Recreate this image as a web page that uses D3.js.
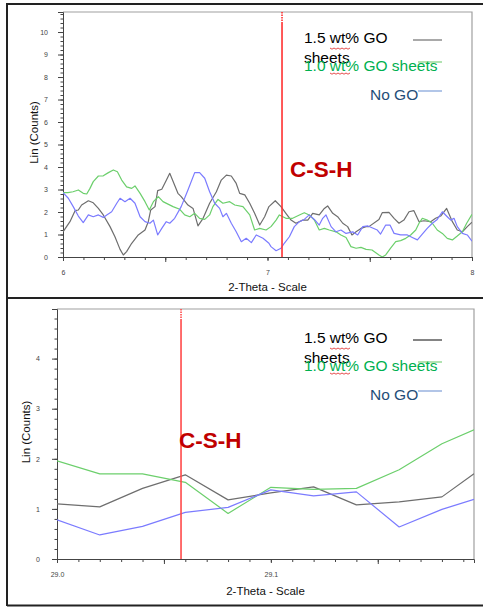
<!DOCTYPE html>
<html>
<head>
<meta charset="utf-8">
<script src="https://cdn.jsdelivr.net/npm/d3@7"></script>
<style>
  body { margin: 0; background: #fff; }
  svg { display: block; font-family: "Liberation Sans", Arial, sans-serif; }
  .tick text { font-size: 7px; fill: #444; }
  .tick line { stroke: #444; }
</style>
</head>
<body>
<svg id="chart" width="483" height="608"></svg>
<script>

/* --- data : upper scan (2-theta 6..8) --- */
var top15wt = [[6.000,1.12],[6.034,1.57],[6.059,2.06],[6.075,2.09],[6.091,2.31],[6.124,2.50],[6.148,2.41],[6.173,2.16],[6.197,1.87],[6.230,1.35],[6.254,0.90],[6.279,0.34],[6.295,0.09],[6.311,0.24],[6.336,0.61],[6.368,0.98],[6.401,1.20],[6.417,1.57],[6.429,2.09],[6.450,2.24],[6.463,2.95],[6.483,3.01],[6.504,3.39],[6.522,3.72],[6.562,2.83],[6.578,2.68],[6.611,2.31],[6.636,2.16],[6.660,1.38],[6.685,1.72],[6.717,2.39],[6.750,2.90],[6.774,3.42],[6.799,3.64],[6.823,3.60],[6.847,3.27],[6.864,2.83],[6.889,2.76],[6.913,2.39],[6.937,1.94],[6.962,1.42],[6.986,1.79],[7.007,2.24],[7.038,2.50],[7.066,2.24],[7.090,1.94],[7.115,1.64],[7.139,1.50],[7.172,1.64],[7.197,1.64],[7.221,1.94],[7.253,1.87],[7.278,2.16],[7.294,2.27],[7.319,1.94],[7.343,1.79],[7.368,1.50],[7.392,1.35],[7.413,0.98],[7.433,1.12],[7.457,1.27],[7.482,1.35],[7.496,1.35],[7.545,1.67],[7.561,1.97],[7.594,1.98],[7.619,1.72],[7.643,1.50],[7.667,1.64],[7.692,2.01],[7.716,2.06],[7.741,1.57],[7.765,1.61],[7.798,1.57],[7.822,1.72],[7.847,1.82],[7.876,2.16],[7.904,1.57],[7.928,1.20],[7.953,1.12],[7.977,1.35],[8.000,1.55]]

var top10wt = [[6.000,2.86],[6.024,2.86],[6.049,2.90],[6.075,2.98],[6.099,2.83],[6.116,2.80],[6.132,3.05],[6.148,3.35],[6.173,3.60],[6.197,3.61],[6.222,3.75],[6.246,3.87],[6.266,3.79],[6.287,3.42],[6.311,3.12],[6.336,3.05],[6.352,3.16],[6.377,2.83],[6.401,2.46],[6.422,2.09],[6.442,2.46],[6.466,2.68],[6.489,2.46],[6.538,2.24],[6.571,2.12],[6.595,1.87],[6.620,1.79],[6.644,1.94],[6.668,1.72],[6.693,1.67],[6.717,1.87],[6.733,2.24],[6.758,2.56],[6.782,2.39],[6.815,2.46],[6.840,2.31],[6.880,2.24],[6.913,1.87],[6.937,1.20],[6.962,1.27],[6.993,1.20],[7.017,1.35],[7.042,1.64],[7.058,1.87],[7.090,1.72],[7.123,1.72],[7.156,1.87],[7.180,1.97],[7.204,1.87],[7.229,1.64],[7.253,1.20],[7.278,1.27],[7.302,1.20],[7.335,1.12],[7.359,0.98],[7.384,0.87],[7.408,0.46],[7.433,0.39],[7.457,0.43],[7.482,0.34],[7.511,0.31],[7.545,0.09],[7.561,0.00],[7.578,0.09],[7.602,0.39],[7.627,0.68],[7.651,0.73],[7.676,0.83],[7.700,0.98],[7.725,1.20],[7.741,1.50],[7.757,1.72],[7.781,1.64],[7.806,1.50],[7.830,1.20],[7.855,1.05],[7.879,0.83],[7.904,0.76],[7.928,0.93],[7.953,1.12],[7.974,1.50],[8.000,1.90]]

var topNoGO = [[6.000,2.86],[6.026,2.61],[6.050,2.24],[6.075,1.82],[6.099,1.53],[6.124,1.87],[6.148,1.79],[6.173,1.87],[6.197,1.76],[6.214,1.87],[6.238,2.01],[6.263,2.39],[6.279,2.61],[6.303,2.46],[6.328,2.61],[6.352,2.39],[6.377,1.79],[6.401,1.57],[6.425,1.50],[6.442,1.64],[6.463,0.98],[6.483,1.27],[6.505,1.57],[6.522,1.50],[6.546,1.72],[6.578,2.24],[6.611,2.98],[6.644,3.75],[6.668,3.75],[6.693,3.50],[6.717,2.90],[6.742,2.39],[6.766,2.16],[6.782,1.79],[6.799,1.94],[6.823,1.50],[6.847,1.12],[6.872,0.68],[6.896,0.83],[6.921,0.64],[6.945,0.98],[6.978,0.83],[7.007,0.61],[7.017,0.46],[7.042,0.28],[7.066,0.39],[7.082,0.61],[7.107,0.90],[7.131,1.35],[7.156,1.57],[7.180,1.67],[7.204,1.87],[7.229,1.67],[7.253,1.42],[7.270,1.72],[7.286,1.87],[7.311,1.35],[7.335,1.12],[7.359,1.20],[7.384,1.05],[7.417,1.12],[7.441,0.98],[7.466,1.35],[7.491,1.38],[7.511,1.30],[7.537,1.20],[7.553,1.02],[7.578,1.42],[7.599,1.42],[7.619,1.05],[7.651,0.98],[7.684,0.98],[7.708,0.87],[7.733,0.76],[7.757,1.02],[7.781,1.27],[7.806,1.50],[7.830,1.67],[7.855,2.01],[7.879,1.79],[7.896,1.64],[7.912,1.72],[7.928,1.35],[7.953,1.05],[7.977,0.98],[8.000,0.70]]

/* --- data : lower scan (2-theta 29.0..29.195) --- */
var bottomTheta = [29.00, 29.02, 29.04, 29.06, 29.08, 29.10, 29.12, 29.14, 29.16, 29.18, 29.195]
var bottom15wt  = [1.10, 1.04, 1.41, 1.68, 1.18, 1.32, 1.44, 1.08, 1.14, 1.24, 1.70]
var bottom10wt  = [1.96, 1.70, 1.70, 1.53, 0.91, 1.43, 1.39, 1.41, 1.78, 2.30, 2.58]
var bottomNoGO  = [0.78, 0.48, 0.65, 0.93, 1.03, 1.38, 1.26, 1.34, 0.64, 0.99, 1.19]

/* --- ticks, labels --- */
var topXTicks = [6, 7, 8]
var topYTicks = [0, 1, 2, 3, 4, 5, 6, 7, 8, 9, 10]
var bottomXTicks = [29.0, 29.1]
var bottomYTicks = [0, 1, 2, 3, 4]
var legendNames = ["1.5 wt% GO", "sheets", "1.0 wt% GO sheets", "No GO"]
var cshPeaks = [7.071, 29.058]

var svg = d3.select("#chart")

/* page frame */
svg.append("rect").attr("width", 483).attr("height", 608).attr("fill", "#fff")
svg.append("line").attr("x1", 7).attr("x2", 7).attr("y1", 3).attr("y2", 606).attr("stroke", "#222").attr("stroke-width", 2)
svg.append("line").attr("x1", 7).attr("x2", 483).attr("y1", 4).attr("y2", 4).attr("stroke", "#222").attr("stroke-width", 2)
svg.append("line").attr("x1", 7).attr("x2", 483).attr("y1", 298).attr("y2", 298).attr("stroke", "#222").attr("stroke-width", 2)
svg.append("line").attr("x1", 7).attr("x2", 483).attr("y1", 605.5).attr("y2", 605.5).attr("stroke", "#222").attr("stroke-width", 2)

var drawPanel = function (p, id) {
  var x = d3.scaleLinear().domain(p.xDomain).range([p.left, p.right])
  var y = d3.scaleLinear().domain(p.yDomain).range([p.bottom, p.top])
  var g = svg.append("g")

  g.append("clipPath").attr("id", id)
      .append("rect")
      .attr("x", p.left).attr("y", p.top)
      .attr("width", p.right - p.left).attr("height", p.bottom - p.top)

  /* grey frame top + right */
  g.append("path")
      .attr("d", "M" + p.left + "," + p.top + "H" + p.right + "V" + p.bottom)
      .attr("fill", "none").attr("stroke", "#a0a0a0").attr("stroke-width", 1.2)

  /* minor ticks */
  var xMinor = d3.range(p.xDomain[0], p.xDomain[1] + 1e-9, p.xMinorStep)
  var yMinor = d3.range(p.yDomain[0], p.yDomain[1], 0.2)
  g.append("g")
      .attr("transform", "translate(0," + p.bottom + ")")
      .call(d3.axisBottom(x).tickValues(xMinor).tickSize(3).tickFormat(""))
      .call(function (a) { a.select(".domain").remove() })
  g.append("g")
      .attr("transform", "translate(0," + p.bottom + ")")
      .call(d3.axisBottom(x).tickValues(p.xMid).tickSize(5).tickFormat(""))
      .call(function (a) { a.select(".domain").remove() })
  g.append("g")
      .attr("transform", "translate(" + p.left + ",0)")
      .call(d3.axisLeft(y).tickValues(yMinor).tickSize(2.5).tickFormat(""))
      .call(function (a) { a.select(".domain").remove() })

  /* major axes */
  g.append("g")
      .attr("transform", "translate(0," + p.bottom + ")")
      .call(d3.axisBottom(x).tickValues(p.xTicks).tickSize(4).tickPadding(9).tickFormat(d3.format(p.xFormat)))
      .call(function (a) { a.select(".domain").attr("stroke", "#444") })
  g.append("g")
      .attr("transform", "translate(" + p.left + ",0)")
      .call(d3.axisLeft(y).tickValues(p.yTicks).tickSize(5).tickPadding(p.yPad).tickFormat(d3.format("d")))
      .call(function (a) { a.select(".domain").attr("stroke", "#444") })

  /* axis titles */
  g.append("text")
      .attr("x", (p.left + p.right) / 2).attr("y", p.xTitleY)
      .attr("text-anchor", "middle").attr("font-size", 11.5).attr("fill", "#111")
      .text("2-Theta - Scale")
  g.append("text")
      .attr("transform", "translate(" + p.yTitleX + "," + ((p.top + p.bottom) / 2 - 2) + ") rotate(-90)")
      .attr("text-anchor", "middle").attr("font-size", 11.5).attr("fill", "#111")
      .text("Lin (Counts)")

  /* scan lines */
  var line = d3.line()
      .x(function (d) { return x(d[0]) })
      .y(function (d) { return y(d[1]) })
  p.series.forEach(function (s) {
    g.append("path")
        .datum(s.values)
        .attr("clip-path", "url(#" + id + ")")
        .attr("d", line)
        .attr("fill", "none")
        .attr("stroke", s.color)
        .attr("stroke-width", 1.2)
        .attr("stroke-linejoin", "round")
  })

  /* C-S-H marker */
  var cx = x(p.csh)
  g.append("line")
      .attr("x1", cx).attr("x2", cx).attr("y1", p.top).attr("y2", p.top + 10)
      .attr("stroke", p.redColor).attr("stroke-width", 1.6).attr("stroke-dasharray", "1.5,1")
  g.append("line")
      .attr("x1", cx).attr("x2", cx).attr("y1", p.top + 10).attr("y2", p.bottom)
      .attr("stroke", p.redColor).attr("stroke-width", 1.6)
  g.append("text")
      .attr("x", cx + p.cshDx).attr("y", p.cshY)
      .attr("font-size", 22.5).attr("font-weight", "bold").attr("fill", "#c00000")
      .text("C-S-H")

  /* legend (text-box style) */
  var ly = p.legendY
  var leg = g.append("g").attr("font-size", 15.5)
  leg.append("line").attr("x1", 413).attr("x2", 442).attr("y1", ly - 3).attr("y2", ly - 3)
      .attr("stroke", p.legendGrey).attr("stroke-width", 1.2)
  leg.append("line").attr("x1", 418).attr("x2", 442).attr("y1", ly + 19).attr("y2", ly + 19)
      .attr("stroke", "#7fd07f").attr("stroke-width", 1.2)
  leg.append("line").attr("x1", 418).attr("x2", 442).attr("y1", ly + 48).attr("y2", ly + 48)
      .attr("stroke", "#7f9fd8").attr("stroke-width", 1.2)
  leg.append("text").attr("x", 304).attr("y", ly).attr("fill", "#000").text(legendNames[0])
  leg.append("text").attr("x", 304).attr("y", ly + 20).attr("fill", "#000").text(legendNames[1])
  leg.append("text").attr("x", 304).attr("y", ly + 28).attr("fill", "#00b050").text(legendNames[2])
  leg.append("text").attr("x", 370).attr("y", ly + 57).attr("fill", "#1f4e79").text(legendNames[3])

  /* spell-check squiggles under "wt" */
  ;[ly + 5, ly + 30].forEach(function (sy) {
    var d = "M330," + sy
    for (var k = 1; k <= 10; k++) {
      d += "L" + (330 + k * 2) + "," + (sy + (k % 2 ? 1.2 : 0))
    }
    leg.append("path").attr("d", d).attr("fill", "none").attr("stroke", "#e02020").attr("stroke-width", 0.8)
  })
}

drawPanel({
  left: 63, right: 472, top: 12, bottom: 257,
  xDomain: [6, 8], yDomain: [0, 10.89],
  xTicks: topXTicks, xMid: [6.5, 7.5], xMinorStep: 0.1, xFormat: "d",
  yTicks: topYTicks, yPad: 10,
  xTitleY: 291, yTitleX: 38,
  series: [
    { values: top15wt, color: "#6e6e6e" },
    { values: top10wt, color: "#6ccf6c" },
    { values: topNoGO, color: "#7b7bff" }
  ],
  csh: cshPeaks[0], cshDx: 8, cshY: 177, redColor: "#ff3030",
  legendY: 43, legendGrey: "#707070"
}, "clipTop")

drawPanel({
  left: 57, right: 474, top: 309, bottom: 559,
  xDomain: [29.0, 29.195], yDomain: [0, 4.99],
  xTicks: bottomXTicks, xMid: [29.05, 29.15], xMinorStep: 0.01, xFormat: ".1f",
  yTicks: bottomYTicks, yPad: 12,
  xTitleY: 595, yTitleX: 30,
  series: [
    { values: d3.zip(bottomTheta, bottom15wt), color: "#6e6e6e" },
    { values: d3.zip(bottomTheta, bottom10wt), color: "#6ccf6c" },
    { values: d3.zip(bottomTheta, bottomNoGO), color: "#7b7bff" }
  ],
  csh: cshPeaks[1], cshDx: -2, cshY: 448, redColor: "#ff4a4a",
  legendY: 343, legendGrey: "#333"
}, "clipBottom")

</script>
</body>
</html>
